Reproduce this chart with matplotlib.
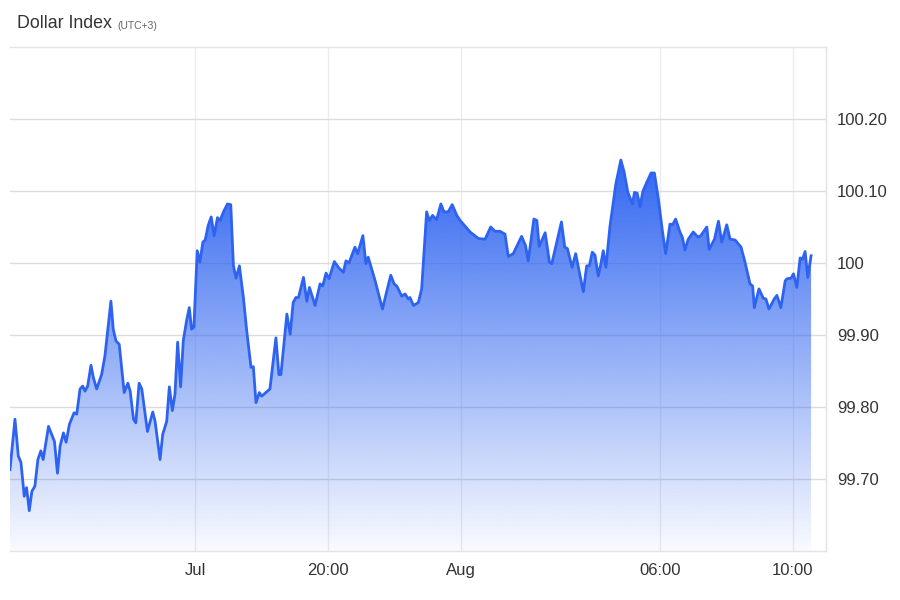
import numpy as np
import matplotlib.pyplot as plt
from matplotlib.patches import Polygon

plt.rcParams['font.family'] = ['Liberation Sans', 'DejaVu Sans']

# data: hours counted from Jul 31 00:00 (UTC+3), index value
hours = [10.42, 10.57, 10.67, 10.75, 10.85, 10.92, 11.00, 11.08, 11.17, 11.26,
         11.35, 11.42, 11.58, 11.76, 11.85, 11.93, 12.03, 12.11, 12.21, 12.35,
         12.43, 12.53, 12.61, 12.68, 12.76, 12.86, 12.93, 13.03, 13.18, 13.28,
         13.46, 13.53, 13.61, 13.71, 13.86, 13.97, 14.04, 14.14, 14.21, 14.31,
         14.39, 14.56, 14.72, 14.79, 14.94, 15.02, 15.14, 15.22, 15.31, 15.39,
         15.47, 15.56, 15.64, 15.74, 15.82, 15.89, 15.96, 16.06, 16.14, 16.23,
         16.30, 16.39, 16.48, 16.57, 16.67, 16.75, 16.85, 16.97, 17.07, 17.15,
         17.23, 17.33, 17.45, 17.55, 17.68, 17.75, 17.83, 17.93, 18.00, 18.25,
         18.43, 18.52, 18.58, 18.76, 18.86, 18.95, 19.03, 19.11, 19.26, 19.36,
         19.44, 19.61, 19.76, 19.84, 19.94, 20.03, 20.19, 20.31, 20.46, 20.54,
         20.63, 20.81, 20.89, 21.05, 21.14, 21.21, 21.42, 21.64, 21.77, 21.89,
         21.99, 22.07, 22.22, 22.32, 22.42, 22.47, 22.57, 22.72, 22.82, 22.97,
         23.05, 23.15, 23.27, 23.40, 23.49, 23.62, 23.74, 23.88, 23.98, 24.28,
         24.53, 24.73, 24.90, 25.03, 25.18, 25.33, 25.43, 25.58, 25.83, 25.95,
         26.03, 26.20, 26.29, 26.36, 26.54, 26.67, 26.74, 27.03, 27.13, 27.21,
         27.35, 27.46, 27.54, 27.69, 27.79, 27.87, 27.96, 28.04, 28.14, 28.22,
         28.29, 28.37, 28.49, 28.67, 28.82, 28.92, 29.03, 29.17, 29.23, 29.31,
         29.40, 29.48, 29.60, 29.73, 29.83, 29.95, 30.07, 30.17, 30.30, 30.38,
         30.47, 30.60, 30.67, 30.75, 30.85, 31.00, 31.14, 31.23, 31.41, 31.48,
         31.64, 31.76, 31.86, 32.01, 32.11, 32.26, 32.44, 32.56, 32.71, 32.79,
         32.84, 32.98, 33.11, 33.19, 33.28, 33.44, 33.52, 33.64, 33.77, 33.82,
         33.95, 34.02, 34.12, 34.22, 34.29, 34.37, 34.45, 34.55]
prices = [99.713, 99.783, 99.732, 99.723, 99.676, 99.688, 99.656, 99.683, 99.690, 99.727,
          99.739, 99.727, 99.773, 99.752, 99.708, 99.746, 99.764, 99.751, 99.776, 99.792,
          99.790, 99.825, 99.829, 99.822, 99.829, 99.858, 99.841, 99.825, 99.845, 99.871,
          99.947, 99.908, 99.892, 99.887, 99.820, 99.833, 99.822, 99.783, 99.778, 99.833,
          99.825, 99.766, 99.793, 99.780, 99.727, 99.762, 99.780, 99.828, 99.795, 99.818,
          99.890, 99.828, 99.892, 99.920, 99.938, 99.908, 99.911, 100.017, 100.001, 100.029,
          100.032, 100.052, 100.064, 100.038, 100.063, 100.059, 100.071, 100.082, 100.081, 99.996,
          99.979, 99.996, 99.952, 99.906, 99.855, 99.856, 99.806, 99.820, 99.815, 99.825,
          99.896, 99.845, 99.845, 99.929, 99.901, 99.945, 99.952, 99.952, 99.980, 99.947,
          99.966, 99.941, 99.971, 99.968, 99.986, 99.978, 100.002, 99.994, 99.987, 100.003,
          100.000, 100.022, 100.013, 100.038, 99.999, 100.008, 99.975, 99.936, 99.961, 99.983,
          99.971, 99.968, 99.954, 99.957, 99.950, 99.952, 99.941, 99.945, 99.964, 100.071,
          100.059, 100.066, 100.060, 100.082, 100.071, 100.071, 100.081, 100.066, 100.059, 100.043,
          100.034, 100.033, 100.050, 100.044, 100.044, 100.040, 100.009, 100.013, 100.037, 100.024,
          100.003, 100.061, 100.059, 100.023, 100.042, 100.001, 99.999, 100.057, 100.022, 100.020,
          99.994, 100.013, 99.994, 99.960, 99.996, 99.996, 100.015, 100.011, 99.982, 99.999,
          100.017, 99.994, 100.050, 100.110, 100.143, 100.126, 100.098, 100.082, 100.098, 100.097,
          100.078, 100.099, 100.112, 100.125, 100.125, 100.089, 100.045, 100.013, 100.054, 100.053,
          100.061, 100.043, 100.036, 100.018, 100.033, 100.043, 100.036, 100.038, 100.050, 100.019,
          100.033, 100.058, 100.029, 100.053, 100.033, 100.032, 100.022, 100.001, 99.971, 99.968,
          99.938, 99.964, 99.951, 99.950, 99.936, 99.950, 99.955, 99.938, 99.975, 99.978,
          99.979, 99.985, 99.966, 100.007, 100.005, 100.016, 99.980, 100.010]

ytick_vals = [99.70, 99.80, 99.90, 100.00, 100.10, 100.20]
ytick_labels = ['99.70', '99.80', '99.90', '100', '100.10', '100.20']
xtick_vals = [16, 20, 24, 30, 34]
xtick_labels = ['Jul', '20:00', 'Aug', '06:00', '10:00']

y_min, y_max = 99.60, 100.30
line_color = '#2d63f0'

fig = plt.figure(figsize=(9, 6), dpi=100)
ax = fig.add_axes([0.0111, 0.0817, 0.9067, 0.84])

# gradient fill under the line
x = np.array(hours)
y = np.array(prices)
verts = np.column_stack([np.r_[x[0], x, x[-1]], np.r_[y_min, y, y_min]])
poly = Polygon(verts, closed=True, facecolor='none', edgecolor='none')
ax.add_patch(poly)
top = y.max()
n = 256
grad = np.zeros((n, 1, 4))
base = np.array([0x2d, 0x63, 0xf0]) / 255
grad[:, 0, :3] = base
grad[:, 0, 3] = np.linspace(0.98, 0.03, n)
img = ax.imshow(grad, extent=[x[0], x[-1], y_min, top], origin='upper',
                aspect='auto', zorder=2, interpolation='bilinear')
img.set_clip_path(poly)

ax.plot(x, y, color=line_color, lw=2, zorder=3, solid_joinstyle='round')

ax.set_xlim(10.42, 35.0)
ax.set_ylim(y_min, y_max)

ax.set_yticks(ytick_vals)
ax.set_yticklabels(ytick_labels)
ax.set_xticks(xtick_vals)
ax.set_xticklabels(xtick_labels)
ax.yaxis.tick_right()
ax.tick_params(axis='y', length=0, pad=8, labelsize=12, labelcolor='#333333')
ax.tick_params(axis='x', length=0, pad=9, labelsize=12, labelcolor='#333333')

ax.grid(axis='y', color='#dcdcdc', lw=1, zorder=1)
ax.grid(axis='x', color='#ececec', lw=1, zorder=1)

ax.spines['left'].set_visible(False)
for s in ['top', 'bottom', 'right']:
    ax.spines[s].set_color('#e3e3e3')
    ax.spines[s].set_linewidth(1)

fig.text(17/900, 1 - 24/600, 'Dollar Index', fontsize=12.8, color='#333333', va='center')
fig.text(117/900, 1 - 26/600, '(UTC+3)', fontsize=7.5, color='#666666', va='center')

fig.savefig('out.png', dpi=100)
